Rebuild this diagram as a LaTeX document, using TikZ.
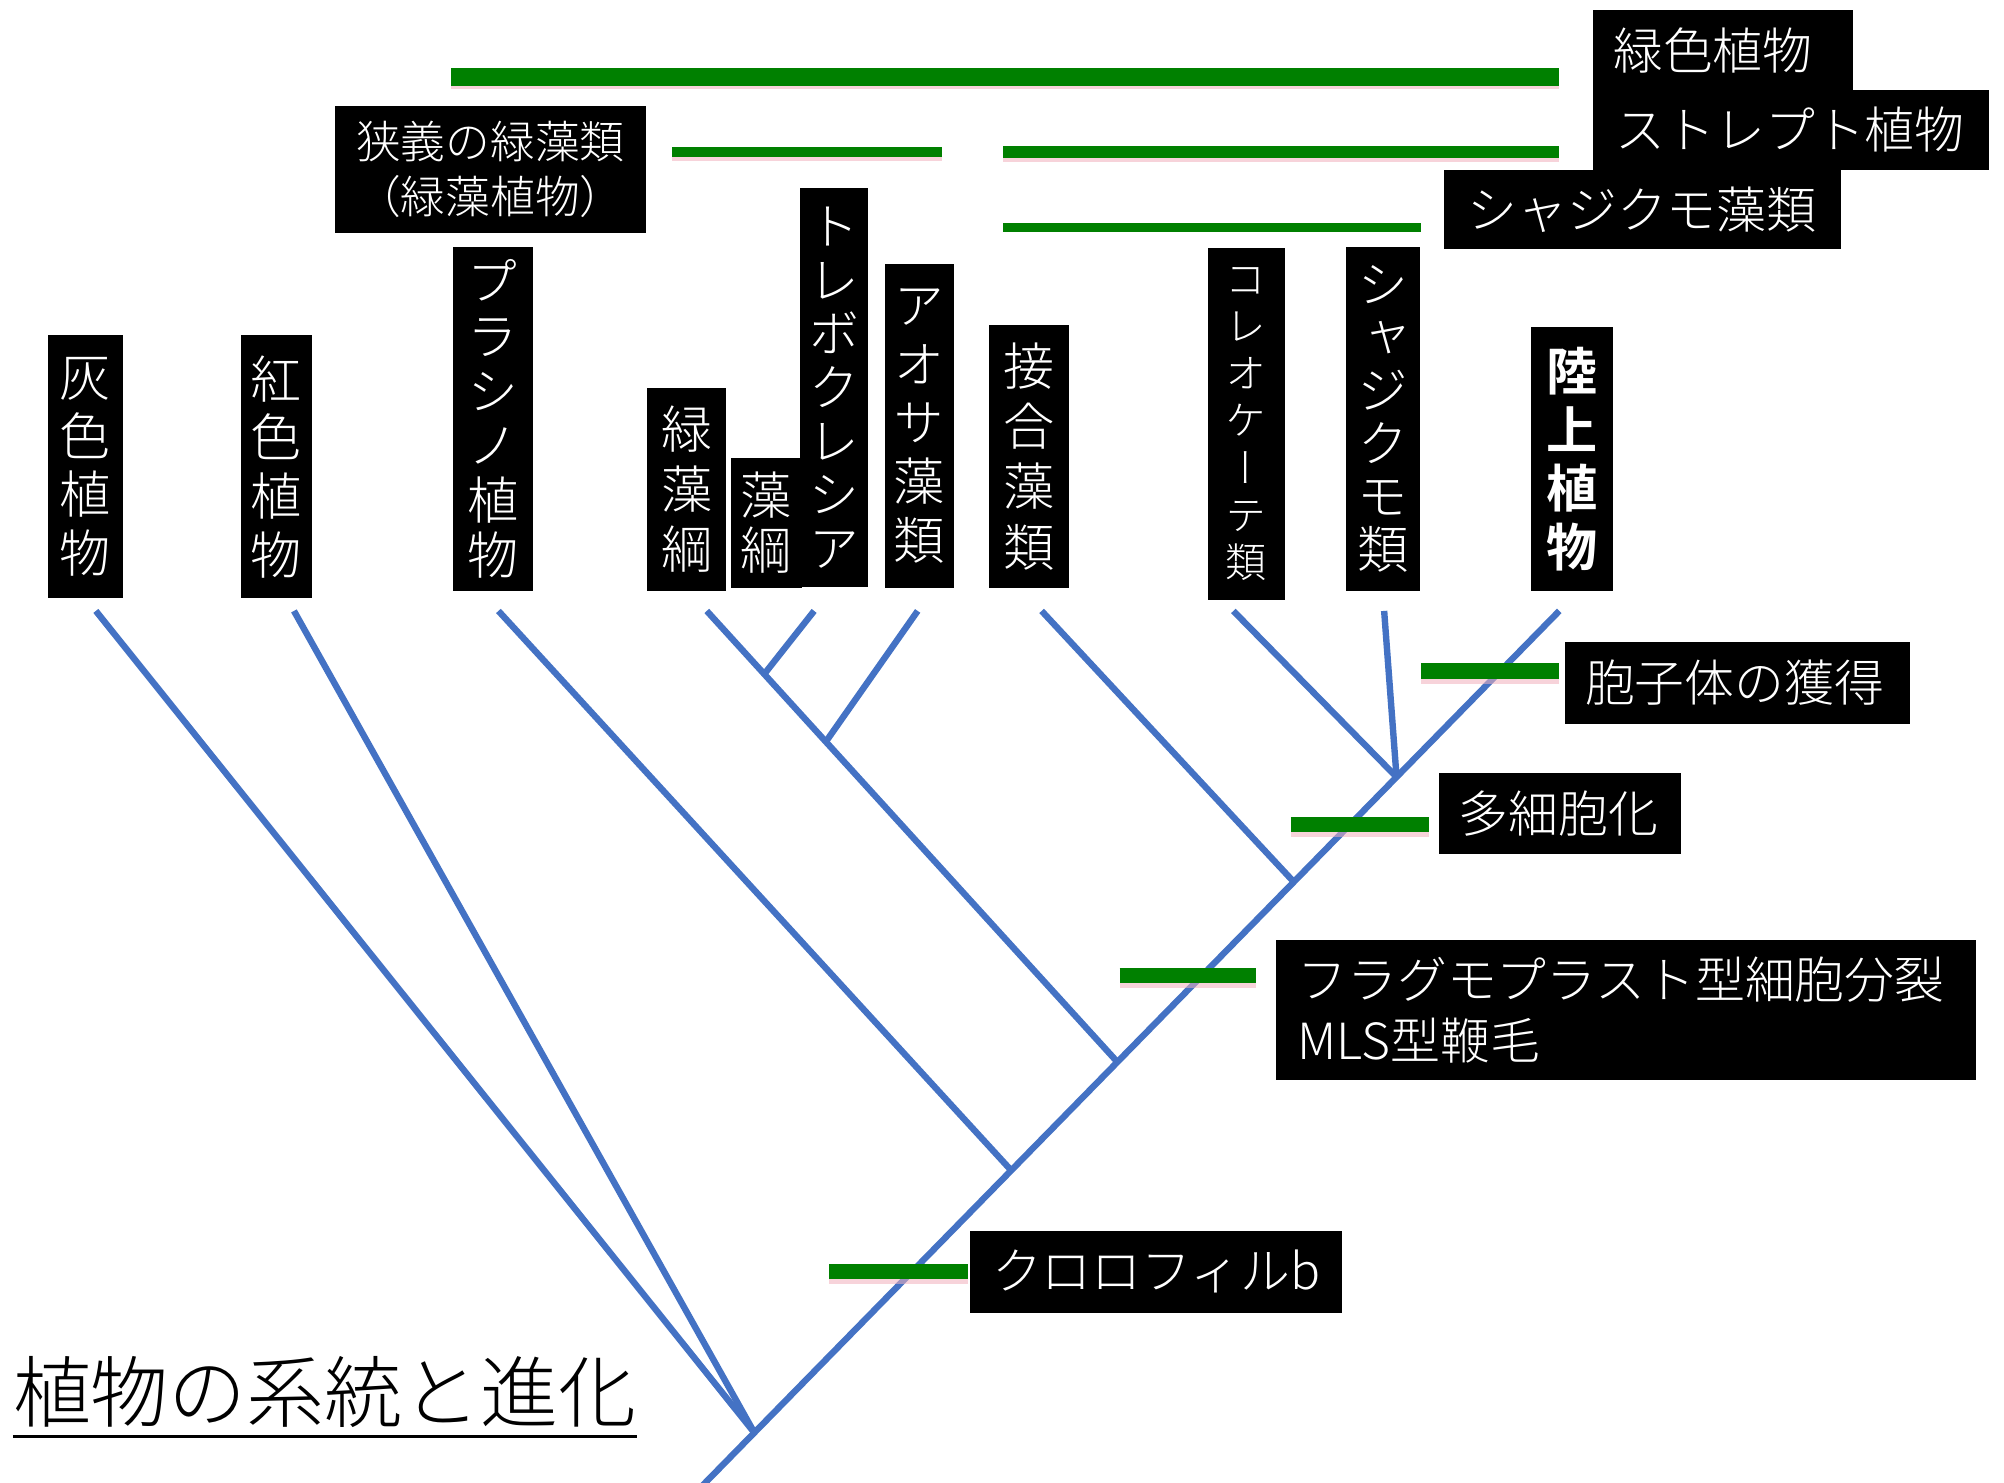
\documentclass[tikz,border=0pt]{standalone}
\usepackage{fontspec}
\newfontfamily\jp[UprightFont={* Light},BoldFont={* Bold}]{Noto Sans CJK JP}
\newfontfamily\jpv[UprightFont={* Light},BoldFont={* Bold},RawFeature=+vert]{Noto Sans CJK JP}
\usetikzlibrary{calc}
\definecolor{branchblue}{HTML}{4472C4}
\definecolor{bargreen}{HTML}{008000}
\definecolor{glow}{HTML}{F2B0BC}
\begin{document}
\begin{tikzpicture}[x=1pt,y=-1pt,
  branch/.style={draw=branchblue,line width=5pt},
  greenbar/.style={draw=bargreen,line width=12pt},
  glowbar/.style={draw=glow,line width=12pt,opacity=0.55},
  vlab/.style={fill=black,text=white,anchor=north west,inner sep=0pt,align=center,font=\jpv\fontsize{40}{46}\selectfont},
  hlab/.style={fill=black,text=white,anchor=north west,inner ysep=0pt,align=left,font=\jp\fontsize{39}{48}\selectfont},
]
\fill[white] (0,0) rectangle (1568,1160);
\useasboundingbox (0,0) rectangle (1568,1160);

% ---- tree coordinates ----
\coordinate (tGray) at (75,478);
\coordinate (tRed) at (230,478);
\coordinate (tPras) at (390,478);
\coordinate (tChl) at (553,478);
\coordinate (tTreb) at (637,478);
\coordinate (tUlva) at (718,478);
\coordinate (tZyg) at (815,478);
\coordinate (tColeo) at (965,478);
\coordinate (tChara) at (1083,478);
\coordinate (tLand) at (1220,478);
\coordinate (root) at (550,1162);
\coordinate (jA) at ($(root)!0.06!(tLand)$);
\coordinate (jPras) at ($(root)!0.36!(tLand)$);
\coordinate (jChl) at ($(root)!0.484!(tLand)$);
\coordinate (jZyg) at ($(root)!0.69!(tLand)$);
\coordinate (jColeo) at ($(root)!0.81!(tLand)$);
\coordinate (jTreb) at ($(tChl)!0.14!(jChl)$);
\coordinate (jUlva) at ($(tChl)!0.29!(jChl)$);

% ---- branches ----
\draw[branch] (root) -- (tLand);
\draw[branch] (tGray) -- (jA);
\draw[branch] (tRed) -- (jA);
\draw[branch] (tPras) -- (jPras);
\draw[branch] (tChl) -- (jChl);
\draw[branch] (tTreb) -- (jTreb);
\draw[branch] (tUlva) -- (jUlva);
\draw[branch] (tZyg) -- (jZyg);
\draw[branch] (tColeo) -- (jColeo);
\draw[branch] (tChara) -- (jColeo);

% ---- green bars ----
\coordinate (bViriA) at (353,60);   \coordinate (bViriB) at (1220,60);
\coordinate (bStrA) at (785,119);   \coordinate (bStrB) at (1220,119);
\coordinate (bChaA) at (785,178);   \coordinate (bChaB) at (1112,178);
\coordinate (bChlA) at (526,119);   \coordinate (bChlB) at (737,119);
\coordinate (bClbA) at (649,995);   \coordinate (bClbB) at (757,995);
\coordinate (bPhrA) at (876,763);   \coordinate (bPhrB) at (983,763);
\coordinate (bMulA) at (1010,645);  \coordinate (bMulB) at (1118,645);
\coordinate (bSpoA) at (1112,525);  \coordinate (bSpoB) at (1220,525);

\draw[glowbar,line width=14pt] ($(bViriA)+(0,3)$) -- ($(bViriB)+(0,3)$);
\draw[glowbar,line width=9pt] ($(bStrA)+(0,3)$) -- ($(bStrB)+(0,3)$);
\draw[glowbar,line width=8pt] ($(bChlA)+(0,3)$) -- ($(bChlB)+(0,3)$);
\draw[glowbar] ($(bClbA)+(0,4)$) -- ($(bClbB)+(0,4)$);
\draw[glowbar] ($(bPhrA)+(0,4)$) -- ($(bPhrB)+(0,4)$);
\draw[glowbar] ($(bMulA)+(0,4)$) -- ($(bMulB)+(0,4)$);
\draw[glowbar] ($(bSpoA)+(0,4)$) -- ($(bSpoB)+(0,4)$);

\draw[greenbar,line width=14pt] (bViriA) -- (bViriB);
\draw[greenbar,line width=9pt] (bStrA) -- (bStrB);
\draw[greenbar,line width=7pt] (bChaA) -- (bChaB);
\draw[greenbar,line width=8pt] (bChlA) -- (bChlB);
\draw[greenbar] (bClbA) -- (bClbB);
\draw[greenbar] (bPhrA) -- (bPhrB);
\draw[greenbar] (bMulA) -- (bMulB);
\draw[greenbar] (bSpoA) -- (bSpoB);

% ---- vertical labels ----
\node[vlab,minimum width=59,minimum height=206] (lGray) at (37,262) {灰\\色\\植\\物};
\node[vlab,minimum width=56,minimum height=206] (lRed) at (188,262) {紅\\色\\植\\物};
\node[vlab,minimum width=63,minimum height=269,font=\jpv\fontsize{40}{43}\selectfont] (lPras) at (354,193) {プ\\ラ\\シ\\ノ\\植\\物};
\node[vlab,minimum width=62,minimum height=159,font=\jpv\fontsize{40}{47}\selectfont] (lChl) at (506,303) {緑\\藻\\綱};
\node[vlab,minimum width=55,minimum height=102,font=\jpv\fontsize{40}{43}\selectfont] (lTrebA) at (572,358) {藻\\綱};
\node[vlab,minimum width=53,minimum height=312,font=\jpv\fontsize{40}{42}\selectfont] (lTreb) at (626,147) {ト\\レ\\ボ\\ク\\レ\\シ\\ア};
\node[vlab,minimum width=54,minimum height=254] (lUlva) at (692,206) {ア\\オ\\サ\\藻\\類};
\node[vlab,minimum width=62,minimum height=206,font=\jpv\fontsize{40}{47}\selectfont] (lZyg) at (774,254) {接\\合\\藻\\類};
\node[vlab,minimum width=60,minimum height=275,font=\jpv\fontsize{32}{37}\selectfont] (lColeo) at (945,194) {コ\\レ\\オ\\ケ\\ー\\テ\\類};
\node[vlab,minimum width=58,minimum height=269,font=\jpv\fontsize{40}{41.5}\selectfont] (lChara) at (1053,193) {シ\\ャ\\ジ\\ク\\モ\\類};
\node[vlab,minimum width=64,minimum height=206,font=\jpv\bfseries\fontsize{40}{46}\selectfont] (lLand) at (1198,256) {陸\\上\\植\\物};

% ---- horizontal labels ----
\node[hlab,minimum height=62,inner xsep=16,text width=172] (lViridi) at (1246,8) {緑色植物};
\node[hlab,minimum height=63,inner xsep=18,text width=274] (lStrep) at (1246,70) {ストレプト植物};
\node[hlab,minimum height=62,inner xsep=18,text width=274] (lCharo) at (1130,133) {シャジクモ藻類};
\node[hlab,align=center,font=\jp\fontsize{35}{43}\selectfont,minimum height=99,inner xsep=10,text width=223] (lChloro) at (262,83) {狭義の緑藻類\\（緑藻植物）};
\node[hlab,minimum height=64,inner xsep=16,text width=238] (lSporo) at (1224,502) {胞子体の獲得};
\node[hlab,minimum height=63,inner xsep=15,text width=159] (lMulti) at (1126,605) {多細胞化};
\node[hlab,minimum height=110,inner xsep=17,text width=514] (lPhrag) at (998,735) {フラグモプラスト型細胞分裂\\MLS型鞭毛};
\node[hlab,minimum height=64,inner xsep=17,text width=257] (lChlb) at (759,963) {クロロフィルb};

% ---- title ----
\node[anchor=base west,inner sep=0pt,font=\jp\fontsize{61}{61}\selectfont] (title) at (10,1112) {植物の系統と進化};
\draw[line width=2.5pt] ($(title.base west)+(0,12)$) -- ($(title.base east)+(0,12)$);
\end{tikzpicture}
\end{document}
